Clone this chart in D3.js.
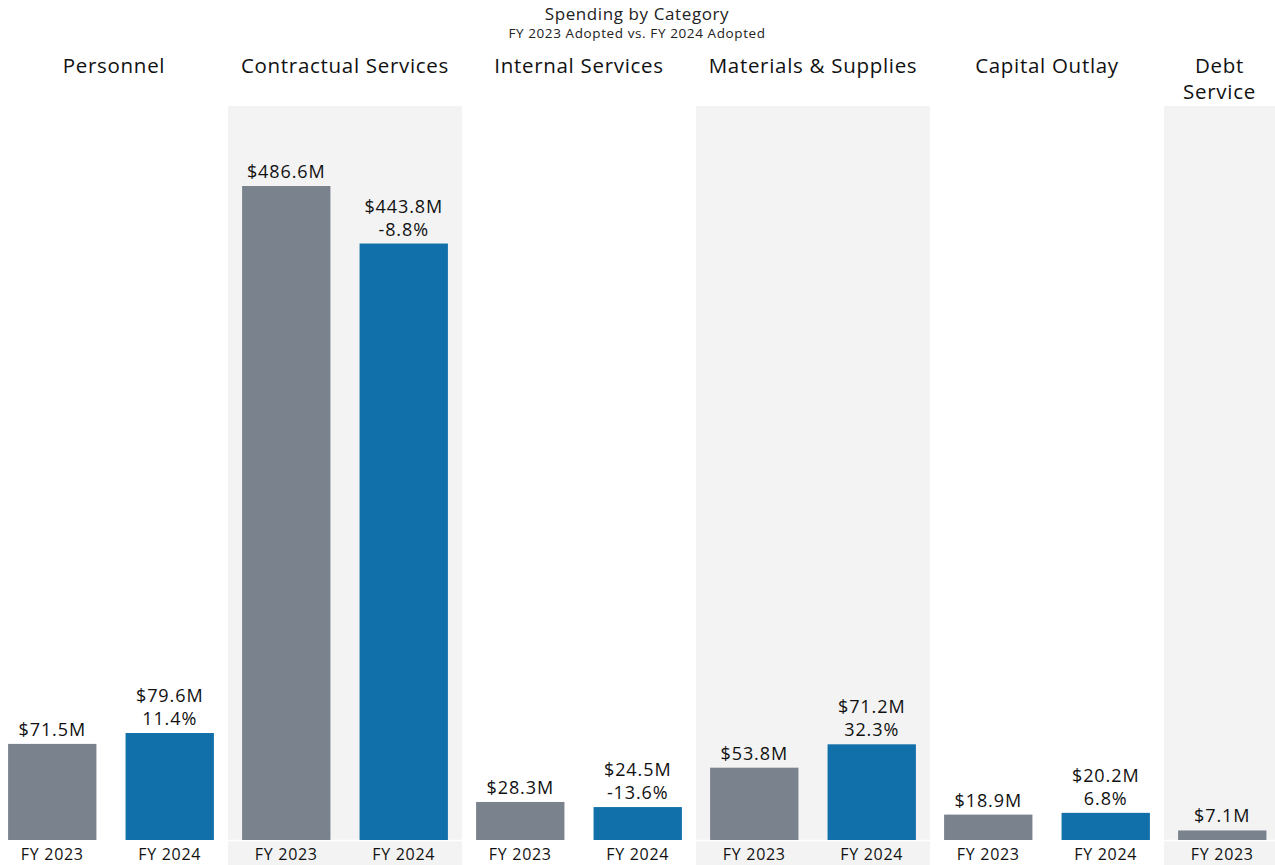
<!DOCTYPE html>
<html>
<head>
<meta charset="utf-8">
<script src="https://cdn.jsdelivr.net/npm/d3@7"></script>
<style>
    body { margin: 0; background: #fff; overflow: hidden; }
    svg { display: block; font-family: "Open Sans", sans-serif; }
</style>
</head>
<body>
<svg id="chart" width="1275" height="865"></svg>
<script>
// Data
const categories = ["Personnel", "Contractual Services", "Internal Services", "Materials & Supplies", "Capital Outlay", "Debt Service"];
const years = ["FY 2023", "FY 2024"];
const fy2023 = [71.5, 486.6, 28.3, 53.8, 18.9, 7.1];
const fy2024 = [79.6, 443.8, 24.5, 71.2, 20.2, null];   // debt service FY 2024 is cut off in the view
const changes = ["11.4%", "-8.8%", "-13.6%", "32.3%", "6.8%", null];

const W = 1275, H = 865;
const panelW = 234, left = -6;
const baseY = 840, shadeTop = 106;

const svg = d3.select("#chart");

const x = d3.scaleBand()
    .domain(categories)
    .range([left, left + panelW * categories.length]);

const xi = d3.scaleBand()
    .domain(years)
    .range([0, panelW])
    .paddingInner(0.248)
    .paddingOuter(0.12);

const y = d3.scaleLinear()
    .domain([0, 500])
    .range([baseY, baseY - 500 * 1.344]);

// Title
svg.append("text")
    .attr("x", 637).attr("y", 20)
    .attr("text-anchor", "middle")
    .attr("font-size", 17).attr("letter-spacing", 0.6).attr("fill", "#222")
    .text("Spending by Category");
svg.append("text")
    .attr("x", 637).attr("y", 38)
    .attr("text-anchor", "middle")
    .attr("font-size", 13.5).attr("letter-spacing", 0.6).attr("fill", "#222")
    .text("FY 2023 Adopted vs. FY 2024 Adopted");

// Shaded panels (every second one)
svg.selectAll(".shade")
    .data(categories.filter((d, i) => i % 2 === 1))
    .enter()
    .append("rect")
        .attr("class", "shade")
        .attr("x", d => x(d))
        .attr("y", shadeTop)
        .attr("width", x.bandwidth())
        .attr("height", H - shadeTop)
        .attr("fill", "#f3f3f3");

// Baseline (white, only shows on shaded panels)
svg.append("line")
    .attr("x1", 0).attr("x2", W)
    .attr("y1", baseY + 0.5).attr("y2", baseY + 0.5)
    .attr("stroke", "#fff").attr("stroke-width", 1.5);

// Panel headers, centered on the visible part of the panel, wrapped if too wide
categories.forEach(function(c) {
    const x0 = Math.max(0, x(c)), x1 = Math.min(W, x(c) + x.bandwidth());
    const cx = (x0 + x1) / 2;
    const t = svg.append("text")
        .attr("x", cx).attr("y", 73)
        .attr("text-anchor", "middle")
        .attr("font-size", 20.5).attr("letter-spacing", 0.7).attr("fill", "#111")
        .text(c);
    if (t.node().getComputedTextLength() > (x1 - x0) - 10) {
        const words = c.split(" ");
        t.text(null);
        words.forEach(function(w, i) {
            t.append("tspan").attr("x", cx).attr("dy", i === 0 ? 0 : 26).text(w);
        });
    }
});

// Flatten into bar records
let bars = [];
categories.forEach(function(c, i) {
    bars.push({cat: c, year: years[0], value: fy2023[i], change: null});
    if (fy2024[i] !== null) {
        bars.push({cat: c, year: years[1], value: fy2024[i], change: changes[i]});
    }
});

const g = svg.append("g");

g.selectAll(".bar")
    .data(bars)
    .enter()
    .append("rect")
        .attr("class", "bar")
        .attr("x", d => x(d.cat) + xi(d.year))
        .attr("y", d => y(d.value))
        .attr("width", xi.bandwidth())
        .attr("height", d => y(0) - y(d.value))
        .attr("fill", d => d.year === years[0] ? "#7a828d" : "#1170aa");

// Value labels
g.selectAll(".val")
    .data(bars)
    .enter()
    .append("text")
        .attr("class", "val")
        .attr("x", d => x(d.cat) + xi(d.year) + xi.bandwidth() / 2)
        .attr("y", d => y(d.value) - (d.change ? 31 : 8))
        .attr("text-anchor", "middle")
        .attr("font-size", 18).attr("letter-spacing", 0.9).attr("fill", "#111")
        .text(d => "$" + d.value.toFixed(1) + "M");

g.selectAll(".chg")
    .data(bars.filter(d => d.change))
    .enter()
    .append("text")
        .attr("class", "chg")
        .attr("x", d => x(d.cat) + xi(d.year) + xi.bandwidth() / 2)
        .attr("y", d => y(d.value) - 8)
        .attr("text-anchor", "middle")
        .attr("font-size", 18).attr("letter-spacing", 0.9).attr("fill", "#111")
        .text(d => d.change);

// Year labels under bars
g.selectAll(".yr")
    .data(bars)
    .enter()
    .append("text")
        .attr("class", "yr")
        .attr("x", d => x(d.cat) + xi(d.year) + xi.bandwidth() / 2)
        .attr("y", 860)
        .attr("text-anchor", "middle")
        .attr("font-size", 16).attr("letter-spacing", 0.7).attr("fill", "#111")
        .text(d => d.year);
</script>
</body>
</html>
